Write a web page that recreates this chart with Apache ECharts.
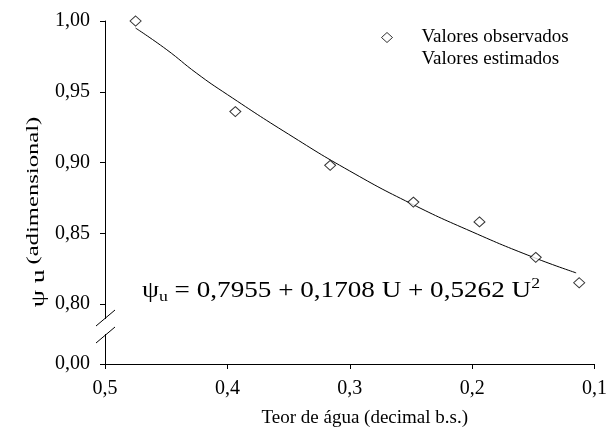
<!DOCTYPE html>
<html>
<head>
<meta charset="utf-8">
<script src="https://cdn.jsdelivr.net/npm/echarts@6/dist/echarts.min.js"></script>
<style>
  html, body { margin: 0; padding: 0; background: #fff; }
  #chart { width: 610px; height: 434px; }
</style>
</head>
<body>
<div id="chart"></div>
<script>
// observed points (U, psi_u)
var obsU = [0.475, 0.3935, 0.316, 0.248, 0.194, 0.148, 0.1125];
var obsPsi = [1.000, 0.936, 0.898, 0.872, 0.858, 0.833, 0.815];

// fitted curve
var fitU = [0.475, 0.45, 0.425, 0.4, 0.35, 0.3, 0.25, 0.2, 0.15, 0.115];
var fitPsi = [0.995, 0.980, 0.963, 0.948, 0.920, 0.894, 0.871, 0.851, 0.833, 0.822];

var yTicks = [0.7576, 0.80, 0.85, 0.90, 0.95, 1.00]; // first one is the broken "0,00"

var serif = 'Liberation Serif';

function pairs(a, b) {
  var out = [];
  for (var i = 0; i < a.length; i++) out.push([a[i], b[i]]);
  return out;
}

var chart = echarts.init(document.getElementById('chart'), null, { renderer: 'canvas' });

var option = {
  animation: false,
  backgroundColor: '#fff',
  grid: { left: 105, right: 13, top: 21, bottom: 70 },
  legend: {
    orient: 'vertical',
    left: 376,
    top: 23,
    itemWidth: 11,
    itemHeight: 10,
    itemGap: 3,
    textStyle: { fontFamily: serif, fontSize: 19, color: '#000', padding: [0, 0, 0, 24] },
    data: [
      { name: 'Valores observados', icon: 'diamond',
        itemStyle: { color: '#fff', borderColor: '#000', borderWidth: 1 } },
      { name: 'Valores estimados', icon: 'rect', itemStyle: { opacity: 0 } }
    ]
  },
  xAxis: {
    type: 'value',
    min: 0.1,
    max: 0.5,
    interval: 0.1,
    inverse: true,
    name: 'Teor de água (decimal b.s.)',
    nameLocation: 'middle',
    nameGap: 45,
    nameTextStyle: { fontFamily: serif, fontSize: 19, color: '#000', padding: [0, 0, 0, 30] },
    axisLine: { lineStyle: { color: '#000', width: 1 } },
    axisTick: { inside: false, length: 5, lineStyle: { color: '#000' } },
    splitLine: { show: false },
    axisLabel: {
      margin: 15,
      fontFamily: serif, fontSize: 20, color: '#000',
      formatter: function (v) { return v.toFixed(1).replace('.', ','); }
    }
  },
  yAxis: {
    type: 'value',
    min: yTicks[0],
    max: 1.0,
    axisLine: { show: true, lineStyle: { color: '#000', width: 1 } },
    axisTick: { show: true, length: 5, customValues: yTicks, lineStyle: { color: '#000' } },
    splitLine: { show: false },
    axisLabel: {
      margin: 15,
      customValues: yTicks,
      fontFamily: serif, fontSize: 20, color: '#000',
      formatter: function (v) {
        if (v < 0.79) return '0,00';
        return v.toFixed(2).replace('.', ',');
      }
    }
  },
  series: [
    {
      name: 'Valores estimados',
      type: 'line',
      smooth: true,
      showSymbol: false,
      data: pairs(fitU, fitPsi),
      lineStyle: { color: '#000', width: 1 },
      itemStyle: { color: '#000' },
      z: 2
    },
    {
      name: 'Valores observados',
      type: 'scatter',
      symbol: 'diamond',
      symbolSize: [11, 10],
      data: pairs(obsU, obsPsi),
      itemStyle: { color: '#fff', borderColor: '#000', borderWidth: 1 },
      z: 3
    }
  ],
  graphic: [
    // axis break
    { type: 'rect', shape: { x: 102, y: 319, width: 6, height: 15 }, style: { fill: '#fff' }, z: 100 },
    { type: 'line', shape: { x1: 96, y1: 326, x2: 115, y2: 310 }, style: { stroke: '#000', lineWidth: 1 }, z: 101 },
    { type: 'line', shape: { x1: 96, y1: 343, x2: 115, y2: 327 }, style: { stroke: '#000', lineWidth: 1 }, z: 101 },
    // y axis title
    {
      type: 'text',
      x: 37, y: 212,
      rotation: Math.PI / 2,
      scaleX: 1.45,
      style: {
        text: '{a|ψ u} {b|(adimensional)}',
        align: 'center',
        verticalAlign: 'middle',
        fill: '#000',
        rich: {
          a: { fontFamily: serif, fontSize: 19, lineHeight: 24, verticalAlign: 'bottom' },
          b: { fontFamily: serif, fontSize: 17, lineHeight: 20, verticalAlign: 'top' }
        }
      }
    },
    // regression equation
    {
      type: 'text',
      x: 142, y: 291,
      scaleX: 1.18,
      style: {
        text: '{m|ψ}{s|u}{m| = 0,7955 + 0,1708 U + 0,5262 U}{p|2}',
        fill: '#000',
        verticalAlign: 'middle',
        rich: {
          m: { fontFamily: serif, fontSize: 23, lineHeight: 28 },
          s: { fontFamily: serif, fontSize: 15, lineHeight: 15, verticalAlign: 'bottom' },
          p: { fontFamily: serif, fontSize: 15, lineHeight: 15, verticalAlign: 'top' }
        }
      }
    }
  ]
};

chart.setOption(option);
</script>
</body>
</html>
